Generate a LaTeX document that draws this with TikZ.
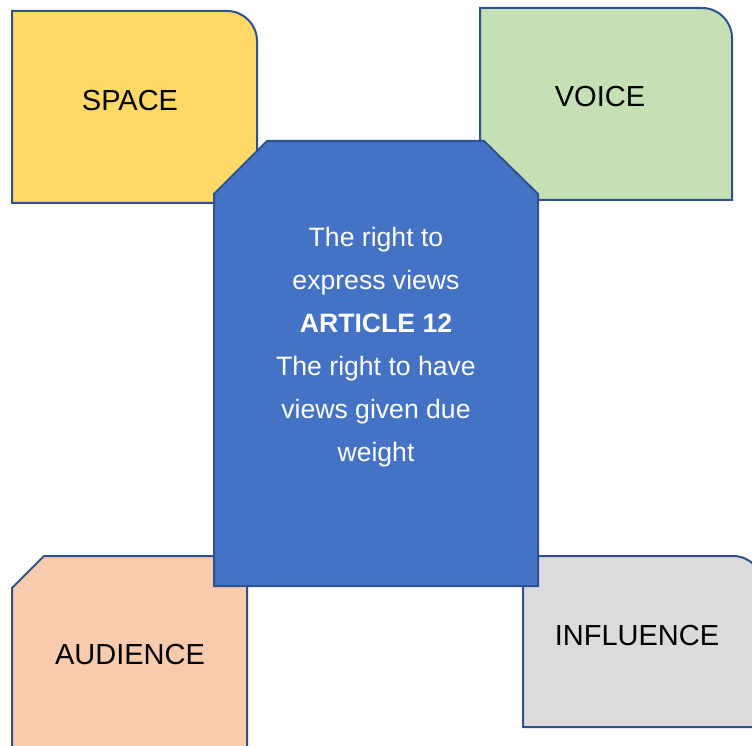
\documentclass[tikz,border=0pt]{standalone}
\usepackage{fontspec}
\setmainfont{Liberation Sans}
\definecolor{edgec}{HTML}{2F528F}
\definecolor{yellowc}{HTML}{FFD966}
\definecolor{greenc}{HTML}{C5E0B4}
\definecolor{bluec}{HTML}{4472C4}
\definecolor{peachc}{HTML}{F8CBAD}
\definecolor{grayc}{HTML}{DBDBDB}
\begin{document}
\begin{tikzpicture}[x=1pt,y=-1pt,
  box/.style={draw=edgec, line width=2pt, line join=miter},
  lbl/.style={anchor=base, inner sep=0pt, text=black, font=\fontsize{29}{34}\selectfont},
  art/.style={anchor=base, inner sep=0pt, text=white, font=\fontsize{26.6}{31}\selectfont}]
\useasboundingbox (0,0) rectangle (752,746);
\begin{scope}
\clip (0,0) rectangle (752,746);
% SPACE
\draw[box, fill=yellowc] (12,203) -- (12,11) -- (227,11) arc[start angle=-90, end angle=0, radius=30] -- (257,203) -- cycle;
% VOICE
\draw[box, fill=greenc] (480,200) -- (480,8) -- (702,8) arc[start angle=-90, end angle=0, radius=30] -- (732,200) -- cycle;
% AUDIENCE
\draw[box, fill=peachc] (12,770) -- (12,588) -- (44,556) -- (247,556) -- (247,770) -- cycle;
% INFLUENCE
\draw[box, fill=grayc] (523,727) -- (523,556) -- (733,556) arc[start angle=-90, end angle=0, radius=30] -- (763,727) -- cycle;
% centre
\draw[box, fill=bluec] (214,586) -- (214,194) -- (267,141) -- (484,141) -- (538,194) -- (538,586) -- cycle;
\end{scope}
\node[lbl] (space) at (130,111) {SPACE};
\node[lbl] (voice) at (600,107) {VOICE};
\node[lbl] (audience) at (130,664) {AUDIENCE};
\node[lbl] (influence) at (637,645) {INFLUENCE};
\node[art] (t1) at (376,247) {The right to};
\node[art] (t2) at (376,289.5) {express views};
\node[art] (t3) at (376,332) {\bfseries ARTICLE 12};
\node[art] (t4) at (376,375) {The right to have};
\node[art] (t5) at (376,418) {views given due};
\node[art] (t6) at (376,461) {weight};
\end{tikzpicture}
\end{document}
